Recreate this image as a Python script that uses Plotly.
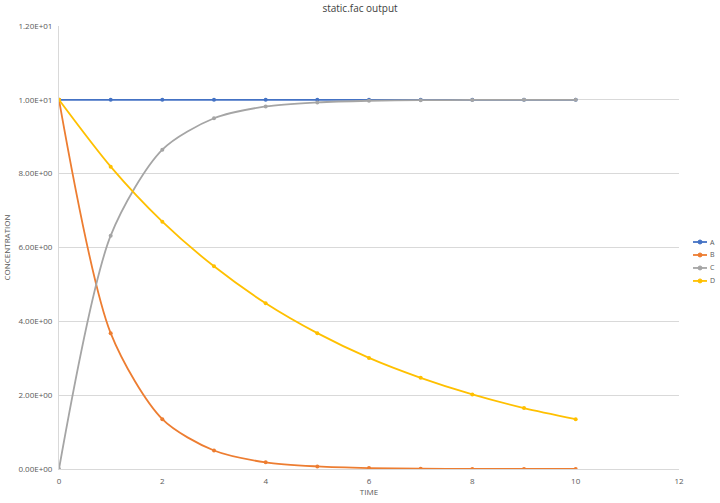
import plotly.graph_objects as go

time = [0, 1, 2, 3, 4, 5, 6, 7, 8, 9, 10]
series_names = ["A", "B", "C", "D"]
A = [10, 10, 10, 10, 10, 10, 10, 10, 10, 10, 10]
B = [10, 3.68, 1.35, 0.50, 0.18, 0.07, 0.025, 0.009, 0.003, 0.001, 0.0005]
C = [0, 6.32, 8.65, 9.50, 9.82, 9.93, 9.975, 9.99, 9.997, 9.999, 9.9995]
D = [10, 8.19, 6.70, 5.49, 4.49, 3.68, 3.01, 2.47, 2.02, 1.65, 1.35]
colors = ["#4472C4", "#ED7D31", "#A5A5A5", "#FFC000"]
y_ticks = [0, 2, 4, 6, 8, 10, 12]
x_ticks = [0, 2, 4, 6, 8, 10, 12]

def sci(v):
    if v == 0:
        return "0.00E+00"
    s = "%.2E" % v
    mant, exp = s.split("E")
    e = int(exp)
    return "%sE%s%02d" % (mant, "+" if e >= 0 else "-", abs(e))

fig = go.Figure()
for name, vals, col in zip(series_names, [A, B, C, D], colors):
    fig.add_trace(go.Scatter(
        x=time, y=vals, name=name, mode="lines+markers",
        line=dict(color=col, width=1.8, shape="spline", smoothing=0.8),
        marker=dict(color=col, size=4),
        showlegend=False,
    ))

# compact legend drawn beside the plot (paper coordinates)
leg_x0, leg_x1, leg_y0, leg_dy = 1.0226, 1.0452, 0.5124, 0.0293
for i, (name, col) in enumerate(zip(series_names, colors)):
    yy = leg_y0 - i * leg_dy
    fig.add_shape(type="line", xref="paper", yref="paper",
                  x0=leg_x0, x1=leg_x1, y0=yy, y1=yy,
                  line=dict(color=col, width=1.8))
    xm = (leg_x0 + leg_x1) / 2
    fig.add_shape(type="circle", xref="paper", yref="paper",
                  xsizemode="pixel", ysizemode="pixel",
                  xanchor=xm, yanchor=yy, x0=-2, x1=2, y0=-2, y1=2,
                  line=dict(color=col, width=1), fillcolor=col)
    fig.add_annotation(x=leg_x1 + 0.002, y=yy, xref="paper", yref="paper",
                       text=name, showarrow=False, xanchor="left", yanchor="middle",
                       font=dict(size=7, color="#595959"))

fig.update_layout(
    width=720, height=503,
    paper_bgcolor="white", plot_bgcolor="white",
    margin=dict(l=59, r=41, t=26, b=34, autoexpand=False),
    font=dict(family="Open Sans, Calibri, sans-serif", size=8, color="#595959"),
    title=dict(text="static.fac output", x=0.5, xref="container", xanchor="center",
               y=0.99, yanchor="top",
               font=dict(size=10, color="#404040")),
    showlegend=False,
    xaxis=dict(range=[0, 12], tickvals=x_ticks, ticktext=[str(v) for v in x_ticks],
               showgrid=False, showline=True, linecolor="#D9D9D9", linewidth=1,
               zeroline=False, ticks="", ticklabelstandoff=4,
               title=dict(text="TIME", font=dict(size=8), standoff=2)),
    yaxis=dict(range=[0, 12], tickvals=y_ticks, ticktext=[sci(v) for v in y_ticks],
               showgrid=True, gridcolor="#D9D9D9", gridwidth=1,
               showline=True, linecolor="#D9D9D9", zeroline=False, ticks="",
               ticklabelstandoff=4,
               title=dict(text="CONCENTRATION", font=dict(size=8), standoff=6)),
)

fig.write_html("out.html", config={"displayModeBar": False},
               post_script="document.body.style.margin='0';")
